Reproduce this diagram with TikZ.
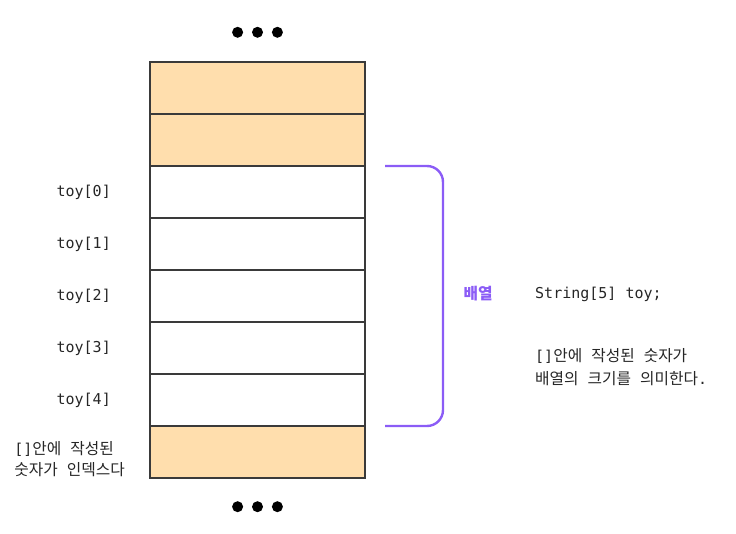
\documentclass[tikz,border=0pt]{standalone}
\usepackage{fontspec}
\setmainfont{DejaVu Sans Mono}
\setmonofont{DejaVu Sans Mono}
\newfontfamily\krfont[Scale=1.05]{Noto Sans CJK KR}
\usepackage{xcolor}
\usetikzlibrary{positioning}
\definecolor{cellorange}{HTML}{FFDEAD}
\definecolor{edgegray}{HTML}{3A3A3A}
\definecolor{bracepurple}{HTML}{8B5CF6}
\newcommand{\kr}[1]{{\krfont #1}}

\begin{document}
\begin{tikzpicture}[x=1pt,y=-1pt,node distance=0pt,font=\fontsize{15}{23}\selectfont]
        \tikzstyle{cell} = [rectangle, draw=edgegray, line width=1.2pt, minimum width=215pt, minimum height=52pt, inner sep=0pt, outer sep=0pt]
        \tikzstyle{used} = [cell, fill=white]
        \tikzstyle{free} = [cell, fill=cellorange]
        \tikzstyle{idx} = [inner sep=0pt, text=black!85]
        \tikzstyle{dot} = [circle, fill=black, minimum size=11pt, inner sep=0pt]
        \tikzstyle{brace} = [draw=bracepurple, line width=2.4pt, rounded corners=16pt]

        \useasboundingbox (0,0) rectangle (736,534);

        % Nodes
        \node[free] (m0) at (257.5,88) {};
        \node[free, below=of m0] (m1) {};
        \node[used, below=of m1] (c0) {};
        \node[used, below=of c0] (c1) {};
        \node[used, below=of c1] (c2) {};
        \node[used, below=of c2] (c3) {};
        \node[used, below=of c3] (c4) {};
        \node[free, below=of c4] (m2) {};

        \node[dot, above=24pt of m0] (t1) {};
        \node[dot, left=8.5pt of t1] (t0) {};
        \node[dot, right=8.5pt of t1] (t2) {};
        \node[dot, below=23pt of m2] (b1) {};
        \node[dot, left=8.5pt of b1] (b0) {};
        \node[dot, right=8.5pt of b1] (b2) {};

        \foreach \i in {0,...,4}
            \node[idx, left=39pt of c\i.west] (l\i) {toy[\i]};
        \node[idx, align=left, font=\fontsize{15}{21}\selectfont, left=25pt of m2.west, yshift=-7pt] (n0) {[]\kr{안에} \kr{작성된}\\\kr{숫자가} \kr{인덱스다}};

        \coordinate (bt) at ([xshift=20pt]c0.north east);
        \coordinate (bb) at ([xshift=20pt]c4.south east);
        \node[idx, text=bracepurple] (arr) at (478,294) {\krfont\bfseries 배열};
        \node[idx, anchor=west] (decl) at (535,294) {String[5] toy;};
        \node[idx, anchor=west, align=left] (n1) at (535,367) {[]\kr{안에} \kr{작성된} \kr{숫자가}\\\kr{배열의} \kr{크기를} \kr{의미한다}.};

        % Edges
        \draw[brace] (bt) -- ++(58,0) |- (bb);
    \end{tikzpicture}
\end{document}
